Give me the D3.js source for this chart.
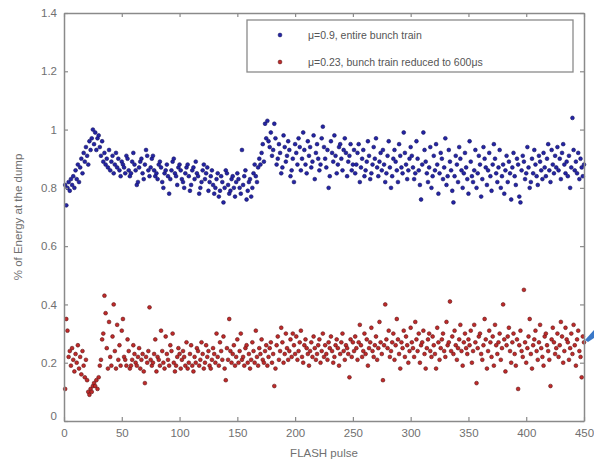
<!DOCTYPE html>
<html><head><meta charset="utf-8">
<script src="https://cdn.jsdelivr.net/npm/d3@7"></script>
<style>html,body{margin:0;padding:0;background:#fff;}svg{display:block;}</style>
</head><body>
<script>
const xTicks = [0,50,100,150,200,250,300,350,400,450];
const yTicks = [0,0.2,0.4,0.6,0.8,1,1.2,1.4];
const yTickLabels = ["0","0.2","0.4","0.6","0.8","1","1.2","1.4"];
const seriesNames = ["\u03bc=0.9, entire bunch train","\u03bc=0.23, bunch train reduced to 600\u03bcs"];
const xLabel = "FLASH pulse";
const yLabel = "% of Energy at the dump";

const blueVals = [
.81,.74,.80,.82,.79,.83,.81,.84,.80,.86,.83,.88,.82,.87,.90,.85,.92,.89,.94,.91,.88,.96,.93,.97,1.00,
.95,.99,.93,.97,.98,.94,.91,.96,.89,.92,.88,.90,.87,.93,.86,.89,.91,.85,.88,.92,.87,.90,.86,.84,.89,
.88,.87,.85,.91,.90,.86,.84,.85,.89,.92,.88,.86,.81,.82,.87,.89,.90,.85,.83,.88,.93,.91,.86,.84,.87,
.90,.91,.86,.84,.85,.83,.88,.89,.87,.82,.80,.85,.86,.88,.84,.78,.83,.86,.89,.90,.85,.84,.81,.87,.88,
.86,.83,.82,.80,.85,.87,.88,.84,.79,.81,.86,.87,.83,.89,.85,.84,.78,.80,.82,.86,.88,.83,.85,.87,.79,
.82,.84,.86,.81,.78,.80,.83,.85,.77,.79,.84,.82,.75,.80,.86,.85,.81,.78,.79,.83,.84,.80,.77,.82,.85,
.83,.80,.78,.93,.81,.84,.86,.76,.79,.82,.83,.77,.80,.85,.88,.84,.82,.87,.90,.88,.92,.95,.89,1.02,.97,
1.03,.96,.94,.99,.91,.93,1.02,.97,.88,.90,.95,.92,.85,.87,.98,.94,.89,.91,.96,.93,.84,.86,.90,.82,.95,
.92,.88,.97,.94,.86,.90,.99,.93,.88,.85,.96,.91,.94,.87,.89,.98,.83,.92,.95,.90,.86,.88,.97,1.01,.94,
.90,.87,.93,.80,.84,.96,.92,.89,.98,.91,.85,.88,.94,.95,.90,.86,.93,.97,.92,.84,.89,.91,.95,.86,.88,
.93,.85,.88,.92,.95,.82,.87,.90,.93,.84,.86,.89,.96,.91,.83,.85,.88,.94,.90,.97,.87,.84,.89,.92,.86,
.93,.88,.82,.85,.91,.96,.87,.80,.84,.90,.93,.89,.86,.82,.95,.91,.87,.85,.99,.92,.88,.83,.86,.90,.94,
.91,.87,.83,.85,.96,.90,.86,.81,.76,.88,.99,.93,.89,.85,.82,.87,.94,.80,.84,.91,.86,.95,.88,.78,.85,
.92,.90,.83,.87,.97,.81,.84,.93,.89,.86,.79,.75,.84,.91,.88,.82,.94,.90,.86,.80,.85,.92,.87,.83,.78,
.96,.89,.84,.82,.86,.93,.80,.85,.91,.88,.77,.83,.94,.90,.87,.81,.86,.92,.84,.79,.88,.95,.90,.85,.82,
.87,.93,.80,.84,.88,.78,.86,.91,.82,.89,.85,.76,.87,.92,.84,.81,.90,.88,.77,.75,.86,.91,.89,.83,.85,
.94,.87,.80,.82,.90,.85,.93,.88,.84,.81,.91,.89,.86,.83,.92,.87,.84,.90,.95,.86,.82,.93,.88,.85,.91,
.87,.94,.86,.90,.83,.92,.95,.88,.85,.89,.84,.91,.80,.87,1.04,.93,.86,.89,.85,.92,.83,.90,.87,.84,.88
];

const redVals = [
.11,.35,.31,.22,.24,.19,.25,.21,.17,.23,.20,.26,.18,.22,.16,.24,.19,.15,.21,.14,.10,.09,.11,.10,.12,
.13,.12,.14,.11,.15,.19,.21,.28,.30,.43,.37,.25,.18,.34,.22,.19,.29,.40,.24,.18,.33,.21,.26,.19,.31,
.35,.22,.21,.19,.28,.24,.18,.19,.21,.26,.23,.20,.19,.22,.25,.18,.21,.23,.17,.13,.22,.20,.24,.39,.21,
.19,.20,.23,.28,.17,.22,.21,.19,.31,.24,.20,.18,.29,.23,.21,.19,.26,.24,.30,.20,.17,.19,.22,.25,.23,
.18,.21,.24,.22,.19,.27,.18,.20,.23,.26,.19,.17,.22,.20,.25,.24,.19,.21,.27,.23,.18,.20,.26,.22,.24,
.19,.18,.21,.25,.23,.20,.30,.22,.19,.27,.24,.21,.29,.18,.14,.25,.21,.35,.24,.20,.23,.26,.19,.22,.28,
.20,.24,.30,.21,.22,.19,.25,.26,.20,.23,.18,.21,.27,.24,.20,.31,.22,.19,.25,.23,.28,.21,.20,.24,.26,
.19,.22,.25,.27,.20,.23,.12,.18,.26,.29,.21,.24,.32,.27,.20,.23,.30,.25,.21,.24,.28,.22,.30,.26,.23,
.29,.21,.24,.27,.31,.22,.20,.26,.28,.25,.23,.19,.24,.27,.22,.29,.25,.21,.23,.26,.28,.20,.24,.30,.22,
.26,.23,.21,.27,.25,.29,.24,.20,.22,.26,.28,.25,.19,.23,.27,.30,.24,.21,.26,.25,.23,.15,.28,.22,.27,
.24,.29,.25,.21,.27,.33,.26,.22,.24,.30,.23,.28,.19,.25,.27,.32,.24,.22,.26,.29,.21,.25,.34,.27,.23,
.14,.26,.40,.28,.25,.31,.22,.24,.27,.30,.21,.26,.35,.28,.23,.18,.27,.25,.31,.22,.29,.26,.20,.24,.32,
.27,.25,.22,.34,.28,.24,.30,.20,.26,.27,.31,.23,.18,.25,.28,.30,.24,.22,.29,.26,.23,.18,.32,.27,.21,
.25,.28,.30,.24,.22,.34,.26,.27,.41,.24,.29,.23,.31,.26,.21,.25,.28,.33,.24,.19,.27,.30,.25,.23,.28,
.26,.31,.20,.24,.33,.27,.13,.25,.29,.30,.23,.21,.26,.35,.28,.18,.24,.31,.27,.22,.29,.19,.33,.26,.23,
.27,.30,.21,.25,.40,.28,.17,.26,.29,.32,.24,.20,.27,.30,.23,.19,.28,.11,.26,.31,.24,.22,.45,.27,.20,
.25,.29,.35,.23,.18,.26,.28,.31,.24,.21,.27,.33,.25,.22,.19,.29,.30,.26,.24,.21,.12,.28,.32,.27,.23,
.25,.30,.22,.26,.34,.29,.20,.24,.32,.28,.27,.21,.25,.30,.23,.33,.26,.19,.28,.31,.24,.22,.15,.29,.27
];

const W = 594, H = 466;
const m = {left:64, right:10, top:13, bottom:45};
const svg = d3.select("body").append("svg").attr("width",W).attr("height",H)
  .style("font-family","'Liberation Sans', Arial, sans-serif");

const x = d3.scaleLinear().domain([0,450]).range([m.left, W - m.right]);
const y = d3.scaleLinear().domain([0,1.4]).range([H - m.bottom, m.top]);

const axisColor = "#8a8a8a", textColor = "#707070";

const seriesList = [
  {vals: blueVals, fill:"#2424a6", stroke:"#14145e"},
  {vals: redVals, fill:"#c02a2a", stroke:"#5e1515"}
];
seriesList.forEach(s => {
  svg.append("g").selectAll("circle").data(s.vals).join("circle")
    .attr("cx",(d,i)=>x(i+1)).attr("cy",d=>y(d)).attr("r",1.9)
    .attr("fill",s.fill).attr("stroke",s.stroke).attr("stroke-width",0.6);
});

function styleAxis(g){
  g.select(".domain").attr("stroke",axisColor).attr("stroke-width",1.5);
  g.selectAll(".tick line").attr("stroke",axisColor).attr("stroke-width",1.2);
  g.selectAll("text").attr("fill",textColor).attr("font-size",11.5);
}
const xb = svg.append("g").attr("transform",`translate(0,${y(0)})`)
  .call(d3.axisBottom(x).tickValues(xTicks).tickSizeInner(-4).tickSizeOuter(0).tickPadding(8).tickFormat(d3.format("d")));
styleAxis(xb);
const xt = svg.append("g").attr("transform",`translate(0,${y(1.4)})`)
  .call(d3.axisTop(x).tickValues(xTicks).tickSizeInner(-4).tickSizeOuter(0).tickFormat(""));
styleAxis(xt);
const yl = svg.append("g").attr("transform",`translate(${x(0)},0)`)
  .call(d3.axisLeft(y).tickValues(yTicks).tickSizeInner(-4).tickSizeOuter(0).tickPadding(7)
  .tickFormat((d,i)=>yTickLabels[i]));
styleAxis(yl);
yl.selectAll(".tick text").filter(d=>d===0).attr("dy","-0.1em");
const yr = svg.append("g").attr("transform",`translate(${x(450)},0)`)
  .call(d3.axisRight(y).tickValues(yTicks).tickSizeInner(-4).tickSizeOuter(0).tickFormat(""));
styleAxis(yr);

svg.append("text").attr("x",(x(0)+x(450))/2).attr("y",H-9).attr("text-anchor","middle")
  .attr("fill",textColor).attr("font-size",11.5).text(xLabel);
svg.append("text").attr("transform",`translate(22,${(y(0)+y(1.4))/2}) rotate(-90)`)
  .attr("text-anchor","middle").attr("fill",textColor).attr("font-size",11.5).text(yLabel);

const lg = svg.append("g").attr("transform","translate(247,20)");
lg.append("rect").attr("width",326).attr("height",52).attr("fill","#fff")
  .attr("stroke",axisColor).attr("stroke-width",1.3);
seriesNames.forEach((name,i)=>{
  const s = seriesList[i];
  lg.append("circle").attr("cx",33).attr("cy",15+i*27).attr("r",1.9)
    .attr("fill",s.fill).attr("stroke",s.stroke).attr("stroke-width",0.6);
  lg.append("text").attr("x",61).attr("y",15+i*27).attr("dy","0.35em")
    .attr("fill","#555").attr("font-size",10.5).text(name);
});

svg.append("path").attr("d","M585,340 L594,330 L594,338 L588,342 Z").attr("fill","#3a78c8");
</script>
</body></html>
